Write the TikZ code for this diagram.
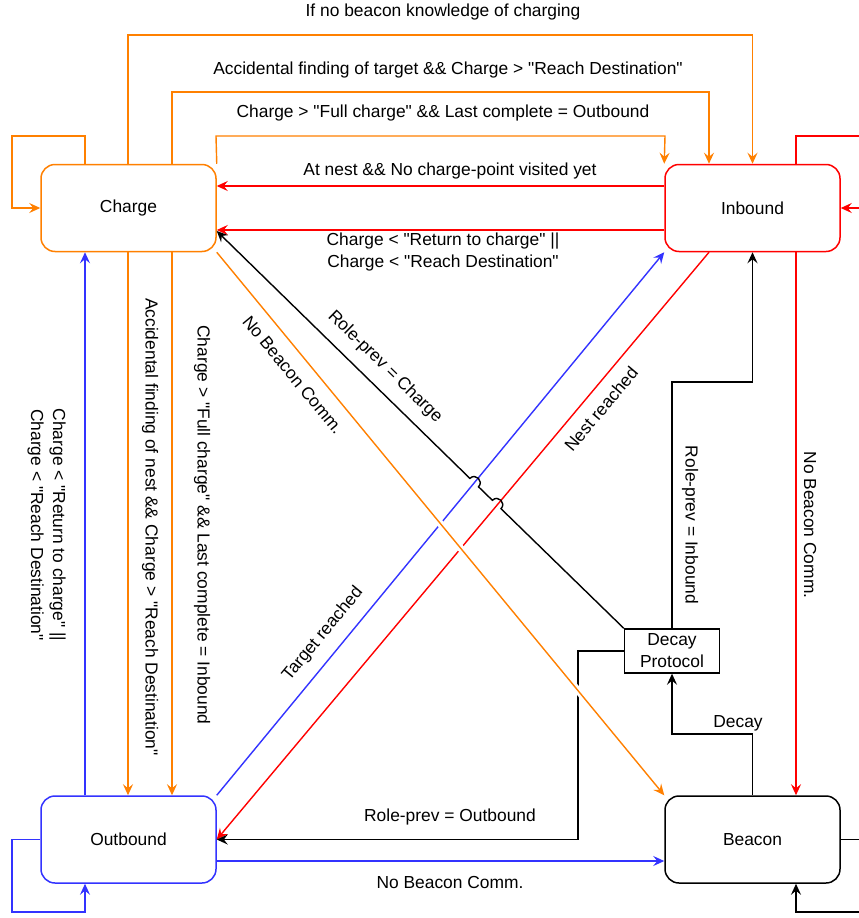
\documentclass[tikz,border=0pt]{standalone}
\usepackage{fontspec}
\setmainfont{Liberation Sans}[Ligatures=TeXOff]
\usetikzlibrary{arrows.meta,calc}
\definecolor{org}{HTML}{FF8000}
\definecolor{rd}{HTML}{FF0000}
\definecolor{bl}{HTML}{3333FF}
\begin{document}
\begin{tikzpicture}[x=1pt,y=-1pt,
  every node/.style={font=\fontsize{17.4}{22}\selectfont, inner sep=0pt},
  state/.style={draw, rounded corners=14pt, line width=1.5pt, minimum width=175pt, minimum height=87pt, fill=white},
  conn/.style={line width=1.4pt, -{Stealth[length=11pt,width=10pt,inset=4pt]}},
  lbl/.style={align=center, text=black}]
\clip (0,0) rectangle (859,918);
\fill[white] (0,0) rectangle (859,918);
% states
\node[state, draw=org] (charge) at (128.5,208) {Charge};
\node[state, draw=rd] (inbound) at (752.5,208) {Inbound};
\node[state, draw=bl] (outbound) at (128.5,839.5) {Outbound};
\node[state, draw=black] (beacon) at (752.5,839.5) {Beacon};
\node[draw, line width=1.4pt, minimum width=95pt, minimum height=44pt, align=center, fill=white] (decay) at (672,651) {Decay\\Protocol};

% Charge self-loop
\draw[conn, org] (85,0 |- charge.north) -- (85,136) -- (12,136) -- (12,0 |- charge.west) -- (charge.west);
% top orange connectors
\draw[conn, org] (128,0 |- charge.north) -- (128,35) -- (752.5,35) -- (inbound.north);
\node[lbl] (l1) at (443,12) {If no beacon knowledge of charging};
\draw[conn, org] (172,0 |- charge.north) -- (172,92) -- (709,92) -- (709,0 |- inbound.north);
\node[lbl] (l2) at (448,70) {Accidental finding of target \&\& Charge > "Reach Destination"};
\draw[conn, org] (charge.north east) -- (216,136) -- (665,136) -- (inbound.north west);
\node[lbl] (l3) at (443,113) {Charge > "Full charge" \&\& Last complete = Outbound};
% red Inbound -> Charge
\draw[conn, rd] (inbound.west |- 0,186) -- (charge.east |- 0,186);
\node[lbl] (l4) at (450,171) {At nest \&\& No charge-point visited yet};
\draw[conn, rd] (inbound.west |- 0,230) -- (charge.east |- 0,230);
\node[lbl] (l5) at (443,252) {Charge < "Return to charge" ||\\Charge < "Reach Destination"};
% Inbound self-loop
\draw[conn, rd] (796,0 |- inbound.north) -- (796,136) -- (880,136) -- (880,0 |- inbound.east) -- (inbound.east);

% left verticals
\draw[conn, bl] (85,0 |- outbound.north) -- (85,0 |- charge.south);
\node[lbl, rotate=-90] (l6) at (46.5,525) {Charge < "Return to charge" ||\\Charge < "Reach Destination"};
\draw[conn, org] (128,0 |- charge.south) -- (128,0 |- outbound.north);
\node[lbl, rotate=-90] (l7) at (150,527) {Accidental finding of nest \&\& Charge > "Reach Destination"};
\draw[conn, org] (172,0 |- charge.south) -- (172,0 |- outbound.north);
\node[lbl, rotate=-90] (l8) at (202,525) {Charge > "Full charge" \&\& Last complete = Inbound};

% Outbound self-loop
\draw[conn, bl] (outbound.west) -- (12,0 |- outbound.west) -- (12,912) -- (85,912) -- (85,0 |- outbound.south);
% Outbound -> Beacon
\draw[conn, bl] (outbound.east |- 0,861) -- (beacon.west |- 0,861);
\node[lbl] (l9) at (450,882) {No Beacon Comm.};
% Beacon self-loop
\draw[conn, black] (beacon.east) -- (880,0 |- beacon.east) -- (880,912) -- (796,912) -- (796,0 |- beacon.south);
% Inbound -> Beacon
\draw[conn, rd] (796,0 |- inbound.south) -- (796,0 |- beacon.north);
\node[lbl, rotate=-90] (l10) at (810,525) {No Beacon Comm.};

% diagonals
\draw[conn, bl] (outbound.north east) -- (inbound.south west);
\node[lbl, rotate=50.5] (l11) at (323,634) {Target reached};
\draw[conn, rd] (709,0 |- inbound.south) -- (outbound.east);
\node[lbl, rotate=50] (l12) at (601,409) {Nest reached};

% Decay protocol connectors
\draw[conn] (decay.north) -- (672,382) -- (752.5,382) -- (inbound.south);
\node[lbl, rotate=-90] (l13) at (690,525) {Role-prev = Inbound};
\draw[conn] (decay.west) -- (578,0 |- decay.west) -- (578,0 |- outbound.east) -- (outbound.east);
\node[lbl] (l14) at (450,817) {Role-prev = Outbound};
\draw[conn] (beacon.north) -- (752.5,734) -- (672,734) -- (decay.south);
\node[lbl] (l15) at (738,723) {Decay};

% orange diagonal Charge -> Beacon (gaps in crossed lines)
\draw[white, line width=7pt, shorten <=20pt, shorten >=20pt] (charge.south east) -- (beacon.north west);
\draw[conn, org] (charge.south east) -- (beacon.north west);
\node[lbl, rotate=-50.5] (l16) at (293,375) {No Beacon Comm.};

% black diagonal Decay -> Charge with line jumps
\draw[conn] (decay.north west) -- (501.0,508.69)
  .. controls (506.58,502.96) and (497.98,494.58) .. (492.4,500.31)
  -- (478.5,486.79)
  .. controls (484.08,481.06) and (475.48,472.68) .. (469.9,478.41)
  -- (charge.east |- 0,231);
\node[lbl, rotate=-44.3] (l17) at (385,367) {Role-prev = Charge};
\end{tikzpicture}
\end{document}
